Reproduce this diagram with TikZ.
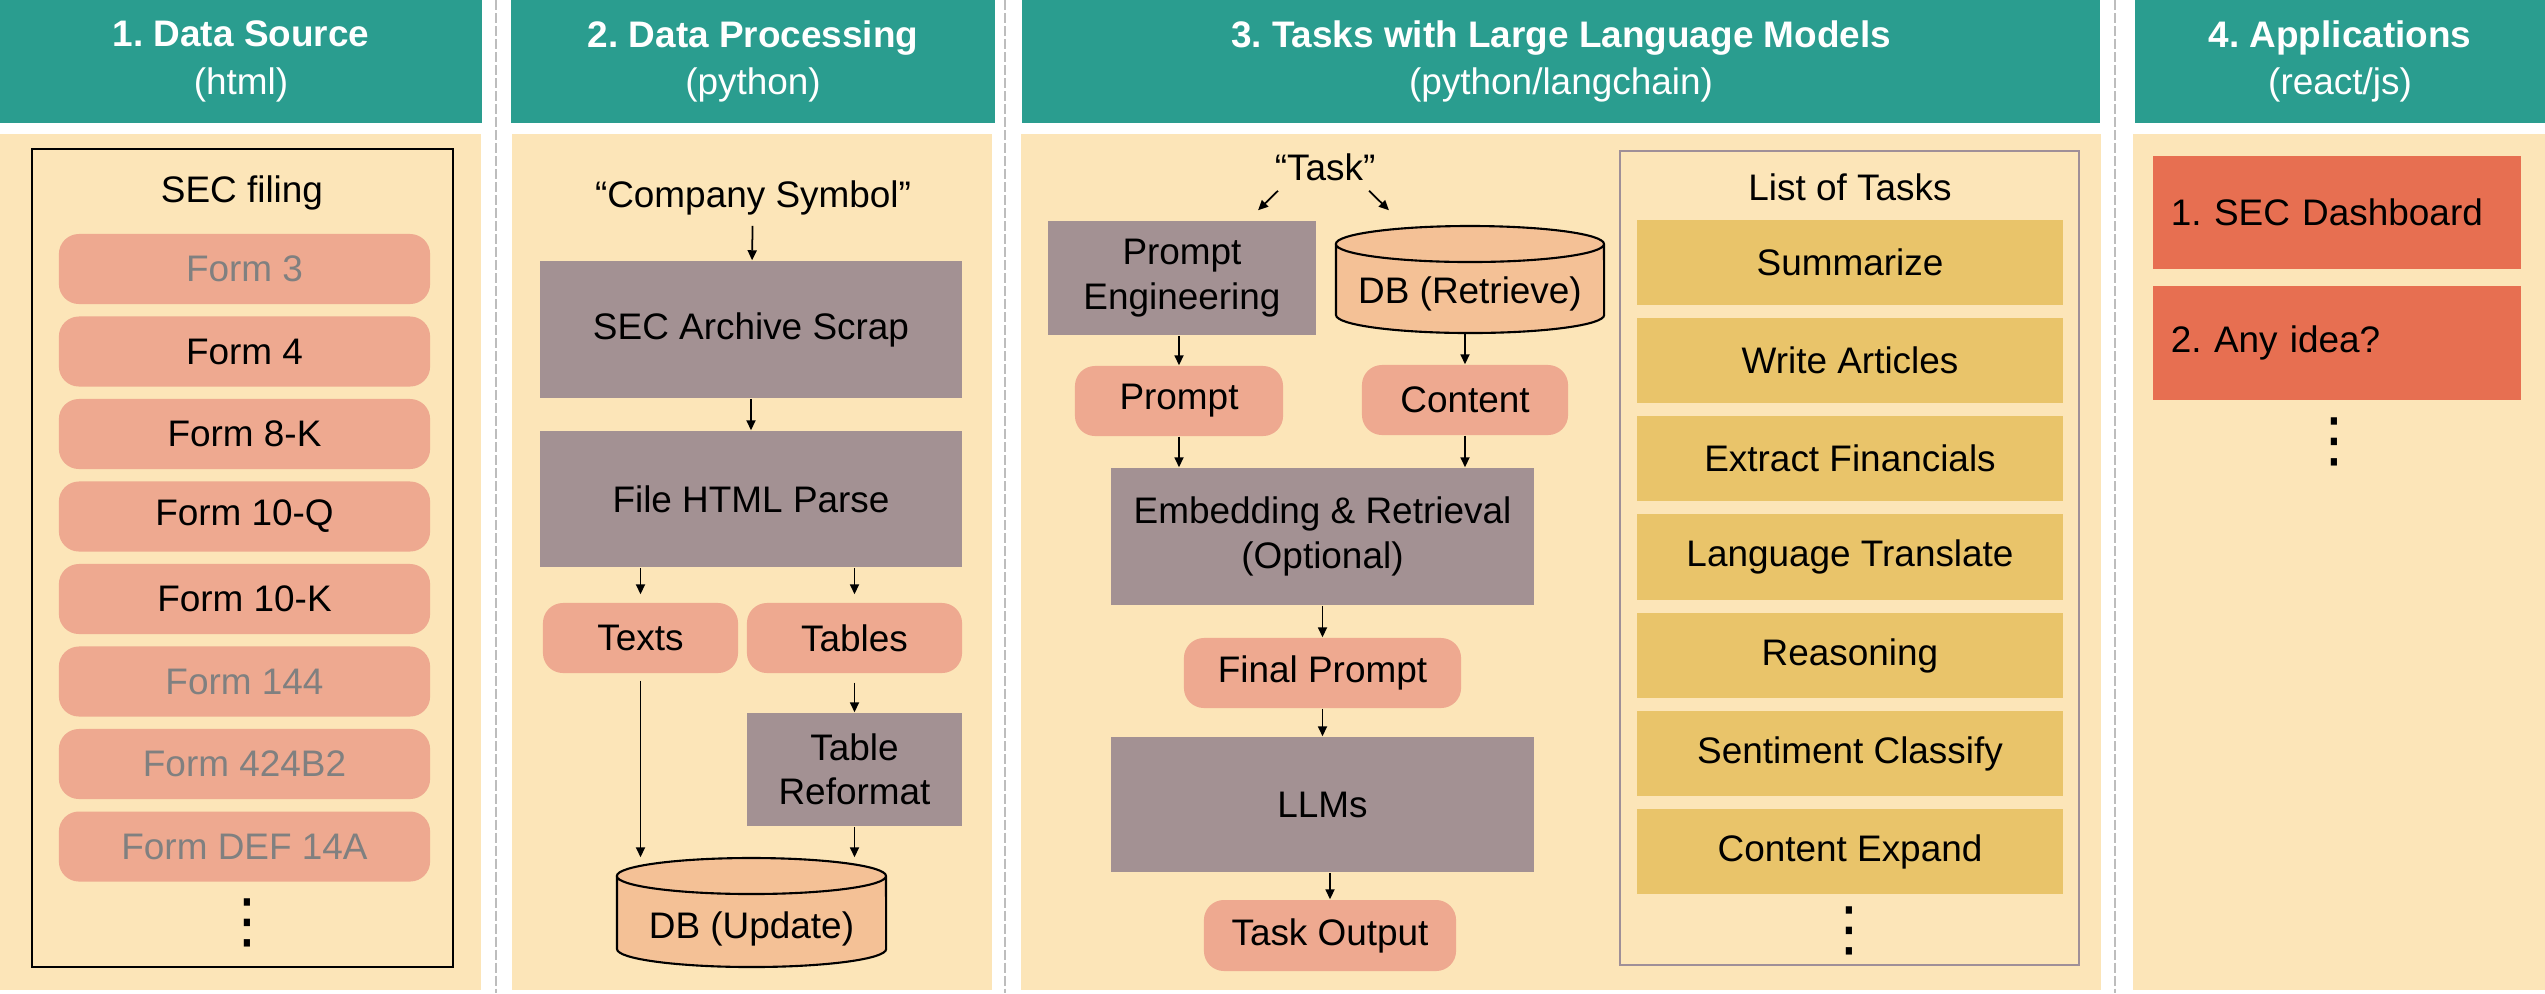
\documentclass[tikz,border=0pt]{standalone}
\usepackage{fontspec}
\setmainfont{Liberation Sans}
\newfontfamily\symfont{DejaVu Sans}
\usetikzlibrary{arrows.meta}
\frenchspacing

\definecolor{hdteal}{HTML}{2A9D8F}
\definecolor{panelbg}{HTML}{FCE5B8}
\definecolor{pillred}{HTML}{EEA990}
\definecolor{procgray}{HTML}{A39193}
\definecolor{dbfill}{HTML}{F4C196}
\definecolor{taskgold}{HTML}{E9C46A}
\definecolor{appred}{HTML}{E76F51}
\definecolor{listline}{HTML}{9F8F98}
\definecolor{formgray}{HTML}{808080}
\definecolor{sepgray}{HTML}{BDBDBD}

\begin{document}
\begin{tikzpicture}[x=0.01cm, y=-0.01cm,
    font=\fontsize{10.5}{12.6}\selectfont,
    hdr/.style={fill=hdteal, text=white, align=center, inner sep=0pt, minimum height=1.23cm,
        font=\fontsize{10.5}{13.6}\selectfont},
    pill/.style={fill=pillred, rounded corners=0.2cm, inner sep=0pt, minimum height=0.70cm},
    form/.style={pill, minimum width=3.71cm},
    proc/.style={fill=procgray, align=center, inner sep=0pt},
    dbline/.style={draw, fill=dbfill, line width=0.6pt},
    dbnode/.style={inner sep=0pt, minimum width=2.68cm},
    taskbox/.style={fill=taskgold, inner sep=0pt, minimum width=4.25cm, minimum height=0.85cm},
    app/.style={fill=appred, inner xsep=0.18cm, inner ysep=0pt, text width=3.32cm, align=left, minimum height=1.13cm},
    txt/.style={inner sep=0pt},
    dots/.style={inner sep=0pt, font=\symfont\fontsize{17}{20}\selectfont},
    arr/.style={line width=0.5pt, -{Triangle[length=0.1cm, width=0.09cm]}},
    sep/.style={draw=sepgray, line width=0.4pt, dash pattern=on 0.1cm off 0.03cm}]

    \useasboundingbox (0,0) rectangle (2545,993);

    \fill[panelbg] (0,134) rectangle (481,990);
    \fill[panelbg] (512,134) rectangle (992,990);
    \fill[panelbg] (1021,134) rectangle (2101,990);
    \fill[panelbg] (2133,134) rectangle (2545,990);
    \draw[sep] (496,0) -- (496,993);
    \draw[sep] (1005,0) -- (1005,993);
    \draw[sep] (2115,0) -- (2115,993);

    \node[hdr, minimum width=4.82cm] (hd1) at (241,61.5) {\textbf{1. Data Source}\\(html)};
    \node[hdr, minimum width=4.84cm] (hd2) at (753,61.5) {\textbf{2. Data Processing}\\(python)};
    \node[hdr, minimum width=10.78cm] (hd3) at (1561,61.5) {\textbf{3. Tasks with Large Language Models}\\(python/langchain)};
    \node[hdr, minimum width=4.10cm] (hd4) at (2340,61.5) {\textbf{4. Applications}\\(react/js)};

    \node[draw, line width=0.6pt, minimum width=4.21cm, minimum height=8.18cm, inner sep=0pt] (fr1) at (242.5,558) {};
    \node[txt] (sec) at (242,193) {SEC filing};
    \node[form, text=formgray] (f1) at (244.5,269) {Form 3};
    \node[form] (f2) at (244.5,351.5) {Form 4};
    \node[form] (f3) at (244.5,434) {Form 8-K};
    \node[form] (f4) at (244.5,516.5) {Form 10-Q};
    \node[form] (f5) at (244.5,599) {Form 10-K};
    \node[form, text=formgray] (f6) at (244.5,681.5) {Form 144};
    \node[form, text=formgray] (f7) at (244.5,764) {Form 424B2};
    \node[form, text=formgray] (f8) at (244.5,846.5) {Form DEF 14A};
    \node[dots] (dt1) at (247,923) {⋮};

    \node[txt] (cs) at (753,198) {“Company Symbol”};
    \node[proc, minimum width=4.22cm, minimum height=1.37cm] (arch) at (751,329.5) {SEC Archive Scrap};
    \node[proc, minimum width=4.22cm, minimum height=1.36cm] (parse) at (751,499) {File HTML Parse};
    \node[pill, minimum width=1.95cm] (texts) at (640.5,638) {Texts};
    \node[pill, minimum width=2.15cm] (tables) at (854.5,638) {Tables};
    \node[proc, minimum width=2.15cm, minimum height=1.13cm] (refmt) at (854.5,769.5) {Table\\Reformat};
    \filldraw[dbline] (617,876) -- (617,949)
        arc[start angle=180, end angle=360, x radius=1.345cm, y radius=0.18cm] -- (886,876)
        arc[start angle=0, end angle=180, x radius=1.345cm, y radius=0.18cm]
        arc[start angle=180, end angle=360, x radius=1.345cm, y radius=0.18cm];
    \node[dbnode, minimum width=2.69cm, minimum height=1.09cm, label={[yshift=-0.16cm]center:DB (Update)}] (dbup) at (751.5,912.5) {};
    \draw (cs) edge[arr, shorten <=0.1cm] (arch);
    \draw (arch) edge[arr] (parse);
    \draw (parse.south -| texts) edge[arr, shorten >=0.08cm] (texts);
    \draw (parse.south -| tables) edge[arr, shorten >=0.08cm] (tables);
    \draw (tables) edge[arr, shorten <=0.09cm] (refmt);
    \draw (texts.south) edge[arr, shorten <=0.07cm] (texts.south |- dbup.north);
    \draw (refmt.south) edge[arr] (refmt.south |- dbup.north);

    \node[txt] (tsk) at (1325,167) {“Task”};
    \node[proc, minimum width=2.68cm, minimum height=1.14cm] (peng) at (1182,278) {Prompt\\Engineering};
    \filldraw[dbline] (1336,244) -- (1336,315)
        arc[start angle=180, end angle=360, x radius=1.34cm, y radius=0.18cm] -- (1604,244)
        arc[start angle=0, end angle=180, x radius=1.34cm, y radius=0.18cm]
        arc[start angle=180, end angle=360, x radius=1.34cm, y radius=0.18cm];
    \node[dbnode, minimum height=1.07cm, label={[yshift=-0.14cm]center:DB (Retrieve)}] (dbret) at (1470,279.5) {};
    \node[pill, minimum width=2.08cm] (prm) at (1179,401) {Prompt};
    \node[pill, minimum width=2.06cm] (cnt) at (1465,400) {Content};
    \node[proc, minimum width=4.23cm, minimum height=1.37cm] (emb) at (1322.5,536.5) {Embedding \& Retrieval\\(Optional)};
    \node[pill, minimum width=2.77cm] (fprm) at (1322.5,673) {Final Prompt};
    \node[proc, minimum width=4.23cm, minimum height=1.35cm] (llm) at (1322.5,804.5) {LLMs};
    \node[pill, minimum width=2.52cm, minimum height=0.71cm] (tout) at (1330,935.5) {Task Output};
    \draw ([xshift=-0.47cm,yshift=-0.095cm]tsk.south) edge[arr] ([xshift=0.76cm,yshift=0.10cm]peng.north);
    \draw ([xshift=0.44cm,yshift=-0.095cm]tsk.south) edge[arr] ([xshift=-0.81cm,yshift=0.15cm]dbret.north);
    \draw (peng.south -| prm) edge[arr] (prm);
    \draw (dbret.south -| cnt) edge[arr] (cnt);
    \draw (prm) edge[arr] (prm |- emb.north);
    \draw (cnt) edge[arr] (cnt |- emb.north);
    \draw (emb) edge[arr] (fprm);
    \draw (fprm) edge[arr] (llm);
    \draw (llm.south -| tout) edge[arr] (tout);

    \node[draw=listline, line width=0.6pt, minimum width=4.59cm, minimum height=8.14cm, inner sep=0pt] (lst) at (1849.5,558) {};
    \node[txt] (lsttl) at (1850,187) {List of Tasks};
    \node[taskbox] (t1) at (1850,262.5) {Summarize};
    \node[taskbox] (t2) at (1850,360.5) {Write Articles};
    \node[taskbox] (t3) at (1850,458.5) {Extract Financials};
    \node[taskbox] (t4) at (1850,557) {Language Translate};
    \node[taskbox] (t5) at (1850,655.5) {Reasoning};
    \node[taskbox] (t6) at (1850,753.5) {Sentiment Classify};
    \node[taskbox] (t7) at (1850,851.5) {Content Expand};
    \node[dots] (dt3) at (1849,931) {⋮};

    \node[app] (ap1) at (2337,212.5) {1. SEC Dashboard};
    \node[app] (ap2) at (2337,343) {2. Any idea?};
    \node[dots] (dt4) at (2334,442) {⋮};
\end{tikzpicture}
\end{document}
